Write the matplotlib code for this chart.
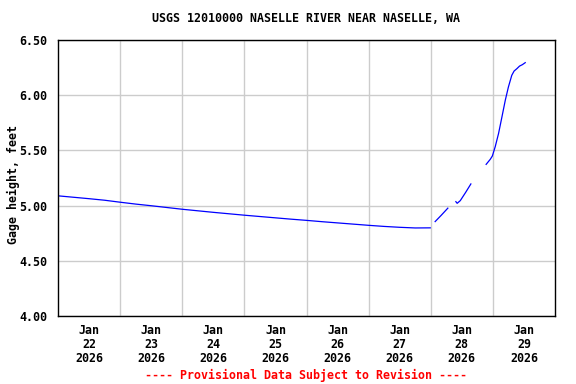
import numpy as np
import matplotlib
matplotlib.use("Agg")
import matplotlib.pyplot as plt
import matplotlib.dates as mdates
from matplotlib.ticker import FixedLocator, NullFormatter

# gage height readings, hours after 2026-01-22 00:00 (NaN = gap in record)
hours = [0, 6, 12, 18, 24, 30, 36, 42, 48, 54, 60, 66, 72, 78, 84, 90,
         96, 102, 108, 114, 120, 126, 132, 138, 143.8,
         np.nan,
         145.7, 148.0, 150.6,
         np.nan,
         153.7, 154.2, 155.4, 157.5, 159.5,
         np.nan,
         165.4, 167.0, 167.8, 168.9, 170.2, 171.5, 172.8, 174.0, 175.3,
         176.2, 177.3, 178.3, 179.4, 180.5]
gage_ft = [5.088, 5.075, 5.062, 5.048, 5.030, 5.013, 4.998, 4.982, 4.966,
           4.952, 4.938, 4.925, 4.912, 4.900, 4.888, 4.876, 4.865, 4.853,
           4.842, 4.831, 4.820, 4.810, 4.802, 4.796, 4.797,
           np.nan,
           4.854, 4.910, 4.976,
           np.nan,
           5.035, 5.020, 5.044, 5.120, 5.196,
           np.nan,
           5.374, 5.420, 5.450, 5.534, 5.655, 5.805, 5.957, 6.077, 6.183,
           6.222, 6.244, 6.267, 6.280, 6.298]

days = [22, 23, 24, 25, 26, 27, 28, 29]
y_ticks = [4.00, 4.50, 5.00, 5.50, 6.00, 6.50]

start = np.datetime64("2026-01-22T00:00")
t = [start + np.timedelta64(int(round(h * 60)), "m") if not np.isnan(h) else np.datetime64("NaT")
     for h in hours]
t = np.array(t, dtype="datetime64[m]")
mask = ~np.isnan(np.array(hours))
y = np.array(gage_ft, dtype=float)

font = dict(family="DejaVu Sans Mono", weight="bold", size=8.4)

fig = plt.figure(figsize=(5.76, 3.84), dpi=100)
ax = fig.add_axes([58 / 576, 1 - 316 / 384, 497 / 576, 276 / 384])

# break line at gaps
seg_start = 0
idx = list(np.where(~mask)[0]) + [len(hours)]
for stop in idx:
    ax.plot(t[seg_start:stop], y[seg_start:stop], color="#0000ff", linewidth=0.9)
    seg_start = stop + 1

x0 = mdates.date2num(np.datetime64("2026-01-22T00:00"))
ax.set_xlim(x0, x0 + 8)
ax.set_ylim(3.996, 6.504)

midnights = [x0 + i for i in range(1, 8)]
noons = [x0 + i + 0.5 for i in range(8)]
ax.xaxis.set_major_locator(FixedLocator(midnights))
ax.xaxis.set_major_formatter(NullFormatter())
ax.xaxis.set_minor_locator(FixedLocator(noons))
ax.set_xticks(noons, ["Jan\n%d\n2026" % d for d in days], minor=True)
ax.tick_params(axis="x", which="both", length=0)
ax.tick_params(axis="x", which="minor", pad=6)

ax.set_yticks(y_ticks, ["%.2f" % v for v in y_ticks])
ax.tick_params(axis="y", length=0, pad=8)

for lab in ax.get_xticklabels(minor=True) + ax.get_yticklabels():
    lab.set_fontfamily(font["family"])
    lab.set_fontweight(font["weight"])
    lab.set_fontsize(font["size"])
for lab in ax.get_xticklabels(minor=True):
    lab.set_linespacing(1.08)

ax.grid(True, which="major", color="#cccccc", linewidth=1.0)
ax.set_axisbelow(True)
for s in ax.spines.values():
    s.set_color("black")
    s.set_linewidth(1.0)

fig.text(13 / 576, 1 - 184 / 384, "Gage height, feet", rotation=90,
         ha="center", va="center", **font)
fig.text(306 / 576, 1 - 19 / 384, "USGS 12010000 NASELLE RIVER NEAR NASELLE, WA",
         ha="center", va="center", **font)
fig.text(306 / 576, 1 - 375 / 384, "---- Provisional Data Subject to Revision ----",
         ha="center", va="center", color="#ff0000", **font)

fig.savefig("out.png", dpi=100)
